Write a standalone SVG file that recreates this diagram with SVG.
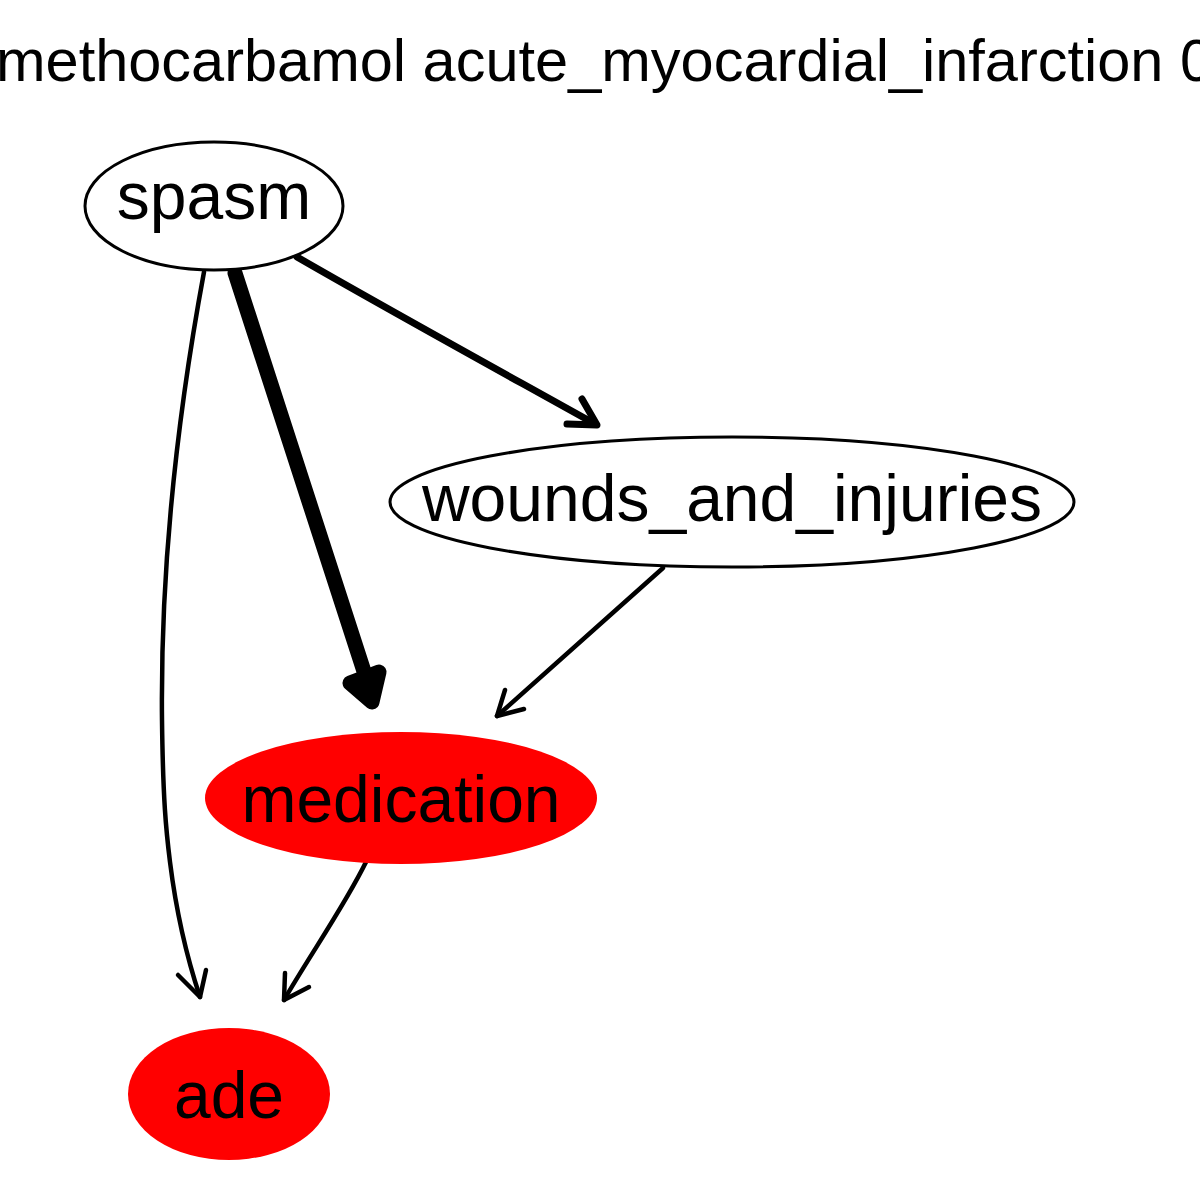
<svg xmlns="http://www.w3.org/2000/svg" width="1200" height="1200" viewBox="0 0 1200 1200">
<style>
text{font-family:"Liberation Sans",Arial,sans-serif;fill:#000}
.lbl{font-size:66px;text-anchor:middle}
.e{fill:none;stroke:#000;stroke-linecap:round;stroke-linejoin:round}
</style>
<rect width="1200" height="1200" fill="#fff"/>
<text x="-4" y="81" style="font-size:59.5px">methocarbamol acute_myocardial_infarction 0</text>
<g id="connectors">
<path class="e" stroke-width="4.5" d="M204,272 C184,380 160,540 162,720 C163,800 166,830 170,862 C176,910 186,955 200,997"/>
<path class="e" stroke-width="4.5" d="M178,975 L200,997 L206,970"/>
<path class="e" stroke-width="15" d="M235,273 L370,690"/>
<path class="e" stroke-width="15" style="fill:#000" d="M350,683 L372,702 L379,672 Z"/>
<path class="e" stroke-width="7" d="M297,257 C380,305 480,360 595,424"/>
<path class="e" stroke-width="7" d="M567,424 L597,425 L582,399"/>
<path class="e" stroke-width="4.5" d="M663,568 L497,716"/>
<path class="e" stroke-width="4.5" d="M524,709 L497,716 L505,690"/>
<path class="e" stroke-width="4.5" d="M366,862 C345,905 310,955 284,1000"/>
<path class="e" stroke-width="4.5" d="M309,987 L284,1000 L285,973"/>
</g>
<g id="spasm">
<ellipse cx="214" cy="206" rx="129" ry="64" fill="#fff" stroke="#000" stroke-width="3"/>
<text class="lbl" x="214" y="219">spasm</text>
</g>
<g id="wounds_and_injuries">
<ellipse cx="732" cy="502" rx="342" ry="65" fill="#fff" stroke="#000" stroke-width="3"/>
<text class="lbl" x="732" y="521">wounds_and_injuries</text>
</g>
<g id="medication">
<ellipse cx="401" cy="798" rx="196" ry="66" fill="#f00"/>
<text class="lbl" x="401" y="822">medication</text>
</g>
<g id="ade">
<ellipse cx="229" cy="1094" rx="101" ry="66" fill="#f00"/>
<text class="lbl" x="229" y="1118">ade</text>
</g>
</svg>
